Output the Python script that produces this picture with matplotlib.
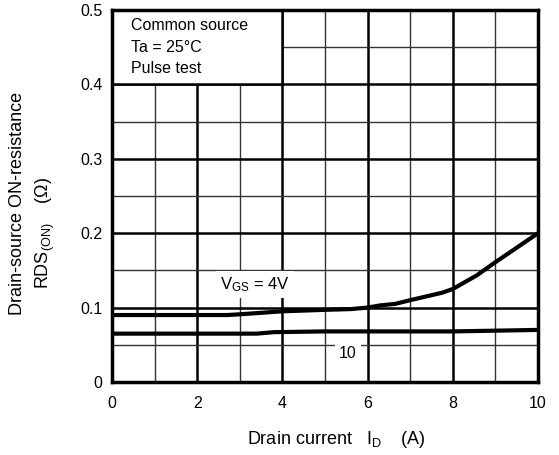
import numpy as np
import matplotlib.pyplot as plt
from matplotlib.patches import Rectangle

plt.rcParams['font.family'] = ['Liberation Sans', 'DejaVu Sans']
plt.rcParams['mathtext.default'] = 'regular'

# DATA
id_4v = [0, 1, 2, 2.7, 3, 3.5, 4, 5, 5.6, 6, 6.3, 6.65, 7, 7.75, 8, 8.57, 9, 10]
rds_4v = [0.090, 0.090, 0.090, 0.090, 0.091, 0.093, 0.095, 0.097, 0.098, 0.100,
          0.103, 0.105, 0.110, 0.120, 0.125, 0.1436, 0.161, 0.200]
id_10v = [0, 1, 2, 3, 3.4, 3.8, 5, 6, 8, 10]
rds_10v = [0.065, 0.065, 0.065, 0.065, 0.065, 0.067, 0.068, 0.068, 0.068, 0.070]

x_ticks = [0, 2, 4, 6, 8, 10]
y_ticks = [0, 0.1, 0.2, 0.3, 0.4, 0.5]
y_tick_labels = ['0', '0.1', '0.2', '0.3', '0.4', '0.5']

fig = plt.figure(figsize=(5.59, 4.55), dpi=100)
ax = fig.add_axes([112/559, 1 - 382/455, 426/559, 372/455])

ax.set_xlim(0, 10)
ax.set_ylim(0, 0.5)
ax.set_xticks(x_ticks)
ax.set_xticks(np.arange(1, 10, 2), minor=True)
ax.set_yticks(y_ticks)
ax.set_yticklabels(y_tick_labels)
ax.set_yticks(np.arange(0.05, 0.5, 0.1), minor=True)
ax.tick_params(which='both', length=0, labelsize=11.5, colors='black')
ax.tick_params(axis='x', pad=10)
ax.tick_params(axis='y', pad=7)

ax.set_axisbelow(True)
ax.grid(which='major', color='black', linewidth=1.8)
ax.grid(which='minor', color='#333333', linewidth=1.0)
for s in ax.spines.values():
    s.set_linewidth(2.5)

# conditions box
ax.add_patch(Rectangle((0, 0.4), 4, 0.1, facecolor='white', edgecolor='black',
                       linewidth=1.8, zorder=1))
ax.text(0.44, 0.479, 'Common source', fontsize=11.5, va='center', zorder=2)
ax.text(0.44, 0.449, 'Ta = 25°C', fontsize=11.5, va='center', zorder=2)
ax.text(0.44, 0.422, 'Pulse test', fontsize=11.5, va='center', zorder=2)

ax.plot(id_4v, rds_4v, color='black', linewidth=3.0, zorder=3, solid_capstyle='butt')
ax.plot(id_10v, rds_10v, color='black', linewidth=3.0, zorder=3, solid_capstyle='butt')

ax.text(3.36, 0.131, r'V$_{GS}$ = 4V', fontsize=12, ha='center', va='center', zorder=2,
        bbox=dict(facecolor='white', edgecolor='none', pad=3))
ax.text(5.54, 0.038, '10', fontsize=11.5, ha='center', va='center', zorder=2,
        bbox=dict(facecolor='white', edgecolor='none', pad=3))

fig.text(18/559, 1 - 203/455, 'Drain-source ON-resistance', rotation=90,
         fontsize=13, ha='center', va='center')
fig.text(45/559, 1 - 233/455, r'RDS$_{(ON)}$    ($\Omega$)', rotation=90,
         fontsize=13, ha='center', va='center')
fig.text(336/559, 1 - 440/455, r'Drain current   I$_D$    (A)', fontsize=13,
         ha='center', va='center')

fig.savefig('out.png', dpi=100)
